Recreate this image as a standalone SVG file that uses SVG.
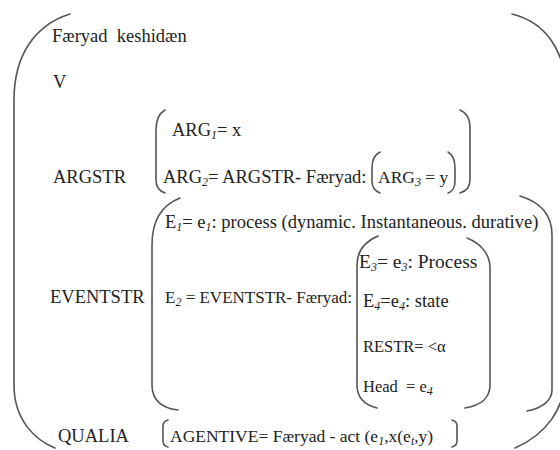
<svg xmlns="http://www.w3.org/2000/svg" width="560" height="450" viewBox="0 0 560 450">
  <style>
    text { font-family: "Liberation Serif", "Times New Roman", serif; font-size: 18.5px; fill: #222; }
    .sub { font-size: 12px; font-style: italic; }
    .br { fill: none; stroke: #555; stroke-width: 1.6; stroke-linecap: round; }
  </style>
  <rect width="560" height="450" fill="#fff"/>

  <!-- round brackets of the attribute-value matrix -->
  <g id="brackets">
    <path class="br" d="M70,14 C35,25 14,55 14,100 L14,385 C14,420 35,440 55,448"/>
    <path class="br" d="M512,14 C545,22 565,50 566,90 L566,370 C566,410 545,435 515,448"/>
    <path class="br" d="M165,110 C158,114 156,121 156,130 L156,180 C156,187 159,191 165,193"/>
    <path class="br" d="M460,110 C467,113 470,119 470,127 L470,180 C470,187 467,191 460,193"/>
    <path class="br" d="M380,152 C374,155 372,160 372,168 L372,181 C372,188 375,191 380,193"/>
    <path class="br" d="M448,152 C453,155 455,160 455,168 L455,181 C455,188 453,191 448,193"/>
    <path class="br" d="M180,198 C162,205 152,220 152,245 L152,385 C152,400 162,408 178,410"/>
    <path class="br" d="M520,196 C540,202 552,215 552,235 L552,390 C552,400 543,408 527,411"/>
    <path class="br" d="M378,236 C364,242 357,252 357,265 L357,385 C357,398 365,405 377,408"/>
    <path class="br" d="M467,238 C482,244 490,255 490,268 L490,385 C490,398 482,405 465,408"/>
    <path class="br" d="M168,420 C164,421 163,423 163,426 L163,441 C163,444 164,446 168,447"/>
    <path class="br" d="M452,420 C456,421 457,423 457,426 L457,441 C457,444 456,446 452,447"/>
  </g>

  <g id="head">
    <text x="52" y="42" xml:space="preserve">Færyad  keshidæn</text>
    <text x="53" y="88">V</text>
  </g>

  <g id="argstr">
    <text x="53" y="183">ARGSTR</text>
    <text x="172" y="136">ARG<tspan class="sub" dy="3">1</tspan><tspan dy="-3">= x</tspan></text>
    <text x="163" y="183">ARG<tspan class="sub" dy="3">2</tspan><tspan dy="-3">= ARGSTR- Færyad:</tspan></text>
    <text x="378" y="183" style="font-size:17.5px">ARG<tspan class="sub" dy="3">3</tspan><tspan dy="-3"> = y</tspan></text>
  </g>

  <g id="eventstr">
    <text x="50" y="303">EVENTSTR</text>
    <text x="165" y="228">E<tspan class="sub" dy="3">1</tspan><tspan dy="-3">= e</tspan><tspan class="sub" dy="3">1</tspan><tspan dy="-3">: process (dynamic. Instantaneous. durative)</tspan></text>
    <text x="165" y="303" style="font-size:17px">E<tspan class="sub" dy="3">2</tspan><tspan dy="-3"> = EVENTSTR- Færyad:</tspan></text>
    <text x="359" y="268" style="font-size:19.5px">E<tspan class="sub" dy="3">3</tspan><tspan dy="-3">= e</tspan><tspan class="sub" dy="3">3</tspan><tspan dy="-3">: Process</tspan></text>
    <text x="363" y="307">E<tspan class="sub" dy="3">4</tspan><tspan dy="-3">=e</tspan><tspan class="sub" dy="3">4</tspan><tspan dy="-3">: state</tspan></text>
    <text x="363" y="352" style="font-size:16.5px">RESTR= &lt;α</text>
    <text x="363" y="392" style="font-size:16.5px" xml:space="preserve">Head  = e<tspan class="sub" dy="3">4</tspan></text>
  </g>

  <g id="qualia">
    <text x="58" y="442">QUALIA</text>
    <text x="170" y="442" style="font-size:17.5px">AGENTIVE= Færyad - act (e<tspan class="sub" dy="3">1</tspan><tspan dy="-3">,x(e</tspan><tspan class="sub" dy="3">t</tspan><tspan dy="-3">,y)</tspan></text>
  </g>
</svg>
